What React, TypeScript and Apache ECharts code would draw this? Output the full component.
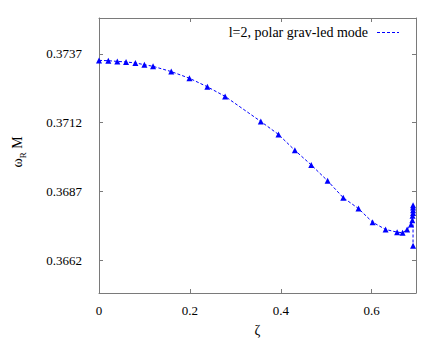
import React, { useEffect, useRef } from "react";
import * as echarts from "echarts";

const zeta = [0, 0.0205, 0.0403, 0.0595, 0.08, 0.0998, 0.119, 0.159, 0.199, 0.2385, 0.2775, 0.356, 0.395, 0.431, 0.467, 0.503, 0.5374, 0.571, 0.602, 0.6306, 0.656, 0.668, 0.678, 0.6866, 0.6894, 0.69, 0.691, 0.691, 0.691, 0.691, 0.691];
const omegaRM = [0.373458, 0.373448, 0.373422, 0.373401, 0.373365, 0.373303, 0.373242, 0.373051, 0.372809, 0.372498, 0.372148, 0.371238, 0.370765, 0.370188, 0.369657, 0.369079, 0.368466, 0.368069, 0.367574, 0.36731, 0.367213, 0.367191, 0.36731, 0.367491, 0.367646, 0.367805, 0.367913, 0.368007, 0.368105, 0.368188, 0.366715];
const xTicks = [0, 0.2, 0.4, 0.6];
const xTickLabels = ["0", "0.2", "0.4", "0.6"];
const yTicks = [0.3662, 0.3687, 0.3712, 0.3737];
const yTickLabels = ["0.3662", "0.3687", "0.3712", "0.3737"];
const seriesName = "l=2, polar grav-led mode";

const FONT = "Liberation Serif";
const AXIS_COLOR = "#7a7a7a";

export default function App() {
  const ref = useRef<HTMLDivElement>(null);
  useEffect(() => {
    document.body.style.margin = "0";
    if (!ref.current) return;
    const chart = echarts.init(ref.current, null, { renderer: "svg" });
    const points = zeta.map((z, i) => [z, omegaRM[i]]);
    const xLabelFmt = (v: number) => {
      const i = xTicks.findIndex((t) => Math.abs(t - v) < 1e-9);
      return i >= 0 ? xTickLabels[i] : "";
    };
    const yLabelFmt = (v: number) => {
      const i = yTicks.findIndex((t) => Math.abs(t - v) < 1e-9);
      return i >= 0 ? yTickLabels[i] : "";
    };
    const common = {
      min: 0,
      max: 0.6975,
      splitLine: { show: false },
      axisLine: { show: true, onZero: false, lineStyle: { color: AXIS_COLOR, width: 1 } },
    };
    chart.setOption({
      animation: false,
      backgroundColor: "#ffffff",
      grid: { left: 99, top: 18, right: 28, bottom: 48 },
      xAxis: [
        {
          type: "value",
          position: "bottom",
          ...common,
          axisTick: { show: true, inside: true, length: 4, customValues: xTicks, lineStyle: { color: AXIS_COLOR } },
          axisLabel: { customValues: xTicks, formatter: xLabelFmt, fontFamily: FONT, fontSize: 13, color: "#000", margin: 11 },
          name: "ζ",
          nameLocation: "middle",
          nameGap: 30,
          nameTextStyle: { fontFamily: FONT, fontSize: 14, color: "#000" },
        },
        {
          type: "value",
          position: "top",
          ...common,
          axisTick: { show: true, inside: true, length: 4, customValues: xTicks, lineStyle: { color: AXIS_COLOR } },
          axisLabel: { show: false },
        },
      ],
      yAxis: [
        {
          type: "value",
          position: "left",
          min: 0.365,
          max: 0.375,
          splitLine: { show: false },
          axisLine: { show: true, onZero: false, lineStyle: { color: AXIS_COLOR, width: 1 } },
          axisTick: { show: true, inside: true, length: 4, customValues: yTicks, lineStyle: { color: AXIS_COLOR } },
          axisLabel: { customValues: yTicks, formatter: yLabelFmt, fontFamily: FONT, fontSize: 13, color: "#000", margin: 17 },
        },
        {
          type: "value",
          position: "right",
          min: 0.365,
          max: 0.375,
          splitLine: { show: false },
          axisLine: { show: true, onZero: false, lineStyle: { color: AXIS_COLOR, width: 1 } },
          axisTick: { show: true, inside: true, length: 4, customValues: yTicks, lineStyle: { color: AXIS_COLOR } },
          axisLabel: { show: false },
        },
      ],
      series: [
        {
          name: seriesName,
          type: "line",
          xAxisIndex: 0,
          yAxisIndex: 0,
          data: points,
          symbol: "triangle",
          symbolSize: 6,
          showSymbol: true,
          lineStyle: { color: "#0000ff", width: 1, type: [3, 2] },
          itemStyle: { color: "#0000ff" },
        },
      ],
      graphic: [
        {
          type: "text",
          x: 368,
          y: 32.5,
          style: { text: seriesName, fontFamily: FONT, fontSize: 14, fill: "#000", align: "right", verticalAlign: "middle" },
        },
        {
          type: "line",
          shape: { x1: 377, y1: 32.5, x2: 399, y2: 32.5 },
          style: { stroke: "#0000ff", lineWidth: 1, lineDash: [3, 2] },
        },
        {
          type: "text",
          x: 16,
          y: 152,
          rotation: Math.PI / 2,
          style: {
            text: "{w|ω}{s|R}{w| M}",
            align: "center",
            verticalAlign: "middle",
            rich: {
              w: { fontFamily: FONT, fontSize: 14, fill: "#000", lineHeight: 16, verticalAlign: "bottom" },
              s: { fontFamily: FONT, fontSize: 9, fill: "#000", lineHeight: 16, verticalAlign: "bottom", padding: [0, 0, -3, 0] },
            },
          },
        },
      ],
    });
    return () => chart.dispose();
  }, []);
  return <div ref={ref} style={{ width: 444, height: 342 }} />;
}
